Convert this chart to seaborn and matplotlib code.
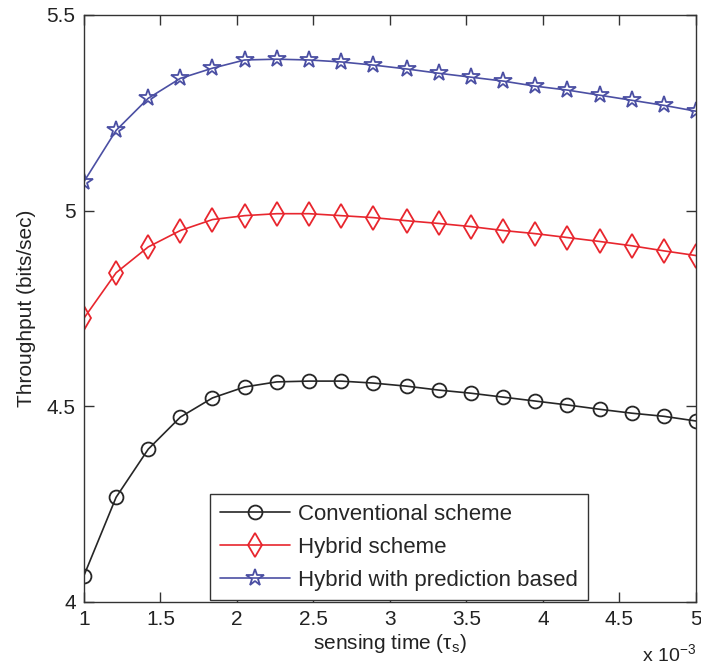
import matplotlib
matplotlib.use("Agg")
import matplotlib.pyplot as plt
import seaborn as sns
import pandas as pd

# sensing time in units of 1e-3
sensing_time = [1.00, 1.21, 1.42, 1.63, 1.84, 2.05, 2.26, 2.47, 2.68, 2.89,
                3.11, 3.32, 3.53, 3.74, 3.95, 4.16, 4.37, 4.58, 4.79, 5.00]

conventional = [4.067, 4.267, 4.390, 4.472, 4.521, 4.549, 4.562, 4.564, 4.564, 4.559,
                4.551, 4.541, 4.533, 4.523, 4.513, 4.503, 4.492, 4.482, 4.474, 4.462]
hybrid = [4.725, 4.841, 4.907, 4.949, 4.977, 4.987, 4.992, 4.992, 4.987, 4.982,
          4.974, 4.967, 4.959, 4.949, 4.941, 4.931, 4.921, 4.910, 4.897, 4.885]
hybrid_pred = [5.074, 5.205, 5.287, 5.338, 5.364, 5.385, 5.387, 5.385, 5.380, 5.372,
               5.362, 5.351, 5.341, 5.331, 5.318, 5.308, 5.295, 5.282, 5.269, 5.254]

series_names = ["Conventional scheme", "Hybrid scheme", "Hybrid with prediction based"]
x_ticks = [1, 1.5, 2, 2.5, 3, 3.5, 4, 4.5, 5]
y_ticks = [4, 4.5, 5, 5.5]

sns.set_style("ticks")
plt.rcParams["font.family"] = ["Liberation Sans", "DejaVu Sans"]

df = pd.DataFrame({
    "t": sensing_time * 3,
    "throughput": conventional + hybrid + hybrid_pred,
    "scheme": [series_names[0]] * 20 + [series_names[1]] * 20 + [series_names[2]] * 20,
})

styles = {
    series_names[0]: dict(color="#262626", marker="o", markersize=10),
    series_names[1]: dict(color="#e8262e", marker="d", markersize=12),
    series_names[2]: dict(color="#4b4fa3", marker="*", markersize=13),
}

fig = plt.figure(figsize=(7.01, 6.72), dpi=100)
ax = fig.add_axes([0.1198, 0.1046, 0.873, 0.8731])

for name in series_names:
    st = styles[name]
    sub = df[df["scheme"] == name]
    sns.lineplot(data=sub, x="t", y="throughput", ax=ax, color=st["color"],
                 marker=st["marker"], markersize=st["markersize"],
                 markerfacecolor="none", markeredgecolor=st["color"],
                 markeredgewidth=1.3, linewidth=1.2, label=name)

ax.set_xlim(1, 5)
ax.set_ylim(4, 5.5)
ax.set_xticks(x_ticks)
ax.set_xticklabels([f"{v:g}" for v in x_ticks])
ax.set_yticks(y_ticks)
ax.set_yticklabels([f"{v:g}" for v in y_ticks])

for side in ["top", "right", "left", "bottom"]:
    ax.spines[side].set_visible(True)
    ax.spines[side].set_color("#333333")
    ax.spines[side].set_linewidth(1.0)
ax.tick_params(direction="in", top=True, right=True, length=7, width=1,
               labelsize=15, colors="#333333", labelcolor="#222222", pad=6)

ax.set_xlabel("sensing time ($\\mathregular{\\tau_s}$)", fontsize=15, color="#222222", labelpad=2)
ax.set_ylabel("Throughput (bits/sec)", fontsize=15, color="#222222", labelpad=8)
ax.text(1.0, -0.072, "x 10$^{\\mathregular{-3}}$", transform=ax.transAxes,
        ha="right", va="top", fontsize=14, color="#222222")

leg = ax.legend(loc="upper left", bbox_to_anchor=(0.206, 0.183), fontsize=16,
                frameon=True, fancybox=False, framealpha=1, edgecolor="#333333",
                handlelength=3.15, labelspacing=0.54, borderpad=0.43, handletextpad=0.4,
                borderaxespad=0)
leg.get_frame().set_linewidth(1.0)

fig.savefig("out.png", dpi=100)
